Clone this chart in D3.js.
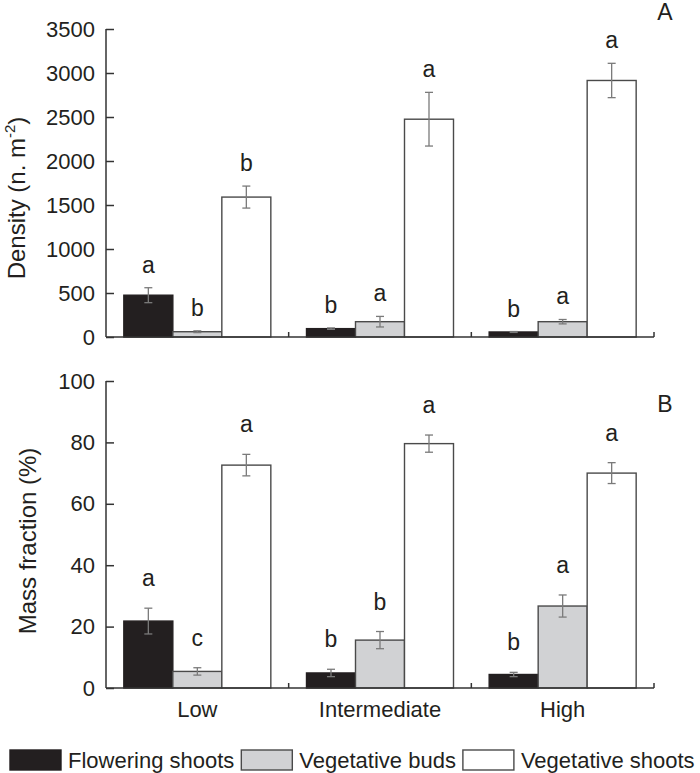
<!DOCTYPE html>
<html>
<head>
<meta charset="utf-8">
<script src="https://cdn.jsdelivr.net/npm/d3@7"></script>
<style>
  html, body { margin: 0; padding: 0; background: #fff; }
  svg text { font-family: "Liberation Sans", Arial, Helvetica, sans-serif; fill: #231f20; }
</style>
</head>
<body>
<svg id="chart" width="700" height="773"></svg>
<script>
// ---------------- data ----------------
const categories = ["Low", "Intermediate", "High"];
const series = ["Flowering shoots", "Vegetative buds", "Vegetative shoots"];
const seriesColors = ["#231f20", "#d1d2d4", "#ffffff"];

// Panel A: density (n. m-2)
const densityFlowering = [475, 95, 57];
const densityFloweringErr = [85, 8, 5];
const densityBuds = [60, 174, 174];
const densityBudsErr = [10, 60, 25];
const densityShoots = [1590, 2475, 2915];
const densityShootsErr = [125, 305, 195];
const densityFloweringLetters = ["a", "b", "b"];
const densityBudsLetters = ["b", "a", "a"];
const densityShootsLetters = ["b", "a", "a"];
const densityTicks = [0, 500, 1000, 1500, 2000, 2500, 3000, 3500];

// Panel B: mass fraction (%)
const massFlowering = [21.8, 4.9, 4.4];
const massFloweringErr = [4.2, 1.2, 0.7];
const massBuds = [5.4, 15.6, 26.7];
const massBudsErr = [1.2, 2.8, 3.6];
const massShoots = [72.6, 79.6, 70.0];
const massShootsErr = [3.5, 2.8, 3.4];
const massFloweringLetters = ["a", "b", "b"];
const massBudsLetters = ["c", "b", "a"];
const massShootsLetters = ["a", "a", "a"];
const massTicks = [0, 20, 40, 60, 80, 100];

// ---------------- layout ----------------
const svg = d3.select("#chart");
const FS = 22;
const axisColor = "#333";
const left = 106, right = 654;

const x = d3.scaleBand().domain(categories).range([left, right]).padding(0);
const xi = d3.scaleBand().domain(series).range([0, x.bandwidth()]).paddingInner(0).paddingOuter(0.364);

function buildRows(vals, errs, letters) {
  const rows = [];
  categories.forEach((c, ci) => {
    series.forEach((s, si) => {
      rows.push({ cat: c, ser: s, si: si, v: vals[si][ci], e: errs[si][ci], l: letters[si][ci] });
    });
  });
  return rows;
}

function panel(cfg) {
  const y = d3.scaleLinear().domain([0, cfg.max]).range([cfg.bottom, cfg.top]);
  const g = svg.append("g");
  const rows = buildRows(cfg.vals, cfg.errs, cfg.letters);

  // bars
  g.selectAll("rect.bar").data(rows).enter().append("rect")
    .attr("class", "bar")
    .attr("x", d => x(d.cat) + xi(d.ser))
    .attr("width", xi.bandwidth())
    .attr("y", d => y(d.v))
    .attr("height", d => y(0) - y(d.v))
    .attr("fill", d => seriesColors[d.si])
    .attr("stroke", d => d.si === 0 ? "#231f20" : "#4a4a4a")
    .attr("stroke-width", 1.4);

  // error bars
  const eb = g.selectAll("g.err").data(rows).enter().append("g")
    .attr("stroke", "#7a7a7a").attr("stroke-width", 1.3);
  const cx = d => x(d.cat) + xi(d.ser) + xi.bandwidth() / 2;
  eb.append("line").attr("x1", cx).attr("x2", cx)
    .attr("y1", d => y(d.v - d.e)).attr("y2", d => y(d.v + d.e));
  eb.append("line").attr("x1", d => cx(d) - 4).attr("x2", d => cx(d) + 4)
    .attr("y1", d => y(d.v + d.e)).attr("y2", d => y(d.v + d.e));
  eb.append("line").attr("x1", d => cx(d) - 4).attr("x2", d => cx(d) + 4)
    .attr("y1", d => y(d.v - d.e)).attr("y2", d => y(d.v - d.e));

  // letters
  g.selectAll("text.letter").data(rows).enter().append("text")
    .attr("x", cx)
    .attr("y", d => y(d.v + d.e) - cfg.letterGap)
    .attr("text-anchor", "middle")
    .attr("font-size", FS + 1)
    .text(d => d.l);

  // y axis
  const ya = g.append("g").attr("transform", `translate(${left},0)`)
    .call(d3.axisRight(y).tickValues(cfg.ticks).tickSize(8).tickFormat(d3.format("d")));
  ya.select(".domain").attr("stroke", axisColor).attr("stroke-width", 1.5).attr("d", `M0,${cfg.bottom}V${cfg.top}`);
  ya.selectAll(".tick line").attr("stroke", axisColor).attr("stroke-width", 1.5);
  ya.selectAll(".tick text").attr("x", -11).attr("text-anchor", "end")
    .attr("font-size", FS).attr("fill", "#231f20").attr("font-family", null);

  // x axis
  const xa = g.append("g").attr("transform", `translate(0,${cfg.bottom})`);
  xa.append("line").attr("x1", left).attr("x2", right).attr("y1", 0).attr("y2", 0)
    .attr("stroke", axisColor).attr("stroke-width", 1.5);
  const bounds = categories.slice(1).map(c => x(c)).concat([right]);
  xa.selectAll("line.tk").data(bounds).enter().append("line")
    .attr("x1", d => d).attr("x2", d => d).attr("y1", 0).attr("y2", -5)
    .attr("stroke", axisColor).attr("stroke-width", 1.5);

  if (cfg.showCats) {
    svg.append("g").selectAll("text").data(categories).enter().append("text")
      .attr("x", d => x(d) + x.bandwidth() / 2)
      .attr("y", cfg.bottom + 29)
      .attr("text-anchor", "middle").attr("font-size", FS).text(d => d);
  }

  // y label
  const yl = svg.append("text")
    .attr("transform", `translate(${cfg.labelX},${cfg.labelY}) rotate(-90)`)
    .attr("text-anchor", "middle").attr("font-size", 24);
  cfg.label(yl);

  // panel letter
  svg.append("text").attr("x", 665).attr("y", cfg.panelY).attr("text-anchor", "middle")
    .attr("font-size", FS + 1).text(cfg.panel);
}

panel({
  max: 3500, top: 29, bottom: 337, ticks: densityTicks,
  vals: [densityFlowering, densityBuds, densityShoots],
  errs: [densityFloweringErr, densityBudsErr, densityShootsErr],
  letters: [densityFloweringLetters, densityBudsLetters, densityShootsLetters],
  letterGap: 15, showCats: false, labelX: 25, labelY: 198, panel: "A", panelY: 20,
  label: t => {
    t.append("tspan").text("Density (n. m");
    t.append("tspan").attr("font-size", 15).attr("dy", -10).text("-2");
    t.append("tspan").attr("dy", 10).text(")");
  }
});

panel({
  max: 100, top: 381, bottom: 688, ticks: massTicks,
  vals: [massFlowering, massBuds, massShoots],
  errs: [massFloweringErr, massBudsErr, massShootsErr],
  letters: [massFloweringLetters, massBudsLetters, massShootsLetters],
  letterGap: 22, showCats: true, labelX: 36, labelY: 541, panel: "B", panelY: 412,
  label: t => t.text("Mass fraction (%)")
});

// ---------------- legend ----------------
const lg = svg.append("g");
let lx = 10;
series.forEach((s, i) => {
  lg.append("rect").attr("x", lx).attr("y", 750).attr("width", 51).attr("height", 20)
    .attr("fill", seriesColors[i]).attr("stroke", i === 0 ? "#231f20" : "#4a4a4a").attr("stroke-width", 1.4);
  lx += 51 + 7;
  const t = lg.append("text").attr("x", lx).attr("y", 768).attr("font-size", FS).text(s);
  lx += t.node().getComputedTextLength() + 7;
});
</script>
</body>
</html>
